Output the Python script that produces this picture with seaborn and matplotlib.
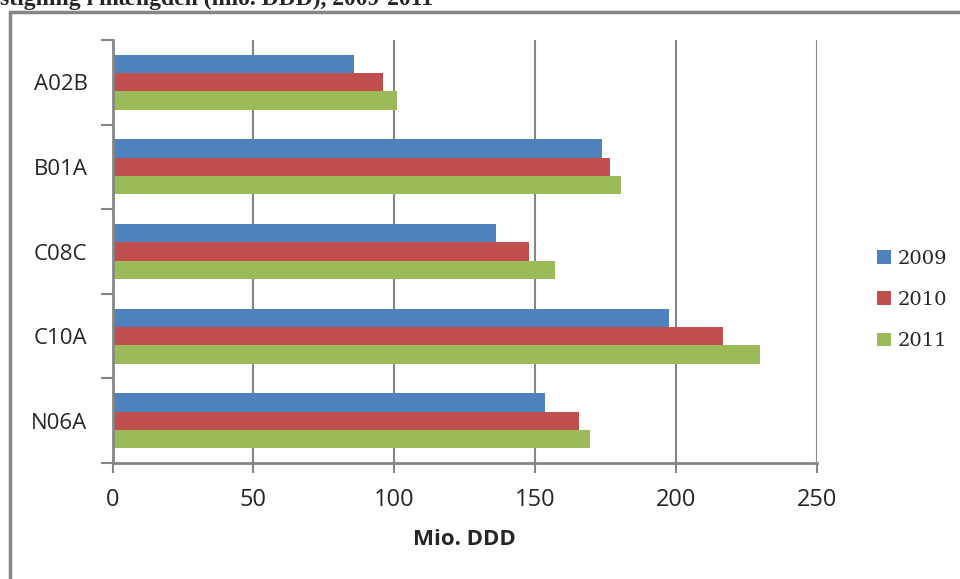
import matplotlib
matplotlib.use("Agg")
import matplotlib.pyplot as plt
import seaborn as sns
import pandas as pd
from matplotlib.lines import Line2D
from matplotlib.patches import Patch

categories = ["A02B", "B01A", "C08C", "C10A", "N06A"]
years = ["2009", "2010", "2011"]
v2009 = [85.6, 173.8, 136.1, 197.5, 153.5]
v2010 = [95.9, 176.7, 147.9, 216.5, 165.6]
v2011 = [100.9, 180.6, 157.1, 229.8, 169.5]
colors = ["#4F81BD", "#C0504D", "#9BBB59"]
xticks = [0, 50, 100, 150, 200, 250]
xlabel = "Mio. DDD"
title = "stigning i mængden (mio. DDD), 2009-2011"

sns.set_theme(style="white")
plt.rcParams["font.family"] = ["Open Sans", "DejaVu Sans"]

rows = []
for yr, vals in zip(years, [v2009, v2010, v2011]):
    for c, v in zip(categories, vals):
        rows.append({"cat": c, "year": yr, "value": v})
df = pd.DataFrame(rows)

W, H = 960, 579
fig = plt.figure(figsize=(W / 100, H / 100), dpi=100)
fig.patch.set_facecolor("white")
ax = fig.add_axes([112.5 / W, 1 - 463 / H, (817 - 112.5) / W, (463 - 40) / H])

sns.barplot(data=df, y="cat", x="value", hue="year", order=categories,
            hue_order=years, palette=colors, orient="h", width=0.65,
            saturation=1, ax=ax, errorbar=None, linewidth=0, edgecolor="none")

grey = "#868686"
ax.set_xlim(0, 250)
ax.set_ylim(4.5, -0.5)
ax.set_xticks(xticks)
ax.set_xticklabels([str(t) for t in xticks], fontsize=17)
ax.xaxis.grid(True, color=grey, lw=1.5)
ax.yaxis.grid(False)
ax.set_axisbelow(True)

ax.set_yticks([i - 0.5 for i in range(len(categories) + 1)])
ax.set_yticklabels([""] * (len(categories) + 1))
ax.set_yticks(range(len(categories)), minor=True)
ax.set_yticklabels(categories, minor=True, fontsize=16)
ax.tick_params(axis="y", which="major", direction="out", length=9, width=1.5, color=grey, left=True)
ax.tick_params(axis="y", which="minor", length=0, pad=18, left=True)
ax.tick_params(axis="x", which="major", direction="out", length=7, width=1.5, color=grey, pad=11, bottom=True)

for s in ["top", "right"]:
    ax.spines[s].set_visible(False)
for s in ["left", "bottom"]:
    ax.spines[s].set_color(grey)
    ax.spines[s].set_linewidth(2)

ax.set_xlabel(xlabel, fontsize=16, fontweight="bold", labelpad=12)
ax.set_ylabel("")

handles = [Patch(facecolor=c, edgecolor="none") for c in colors]
ax.legend(handles, years, loc="center left", bbox_to_anchor=((877 - 112.5) / 704.5, (463 - 300) / 423),
          frameon=False, handlelength=0.72, handleheight=0.72, handletextpad=0.35,
          labelspacing=1.2, borderpad=0, borderaxespad=0,
          prop={"family": ["DejaVu Serif"], "size": 14})

fig.text(0, 1 - 5 / H, title, fontsize=17, fontweight="bold",
         family=["Liberation Serif"], va="baseline", ha="left")

fig.add_artist(Line2D([10 / W, 10 / W], [0, 1 - 12 / H], transform=fig.transFigure, color=grey, lw=2.5))
fig.add_artist(Line2D([10 / W, 1], [1 - 12 / H, 1 - 12 / H], transform=fig.transFigure, color=grey, lw=2.5))

fig.savefig("out.png", dpi=100)
